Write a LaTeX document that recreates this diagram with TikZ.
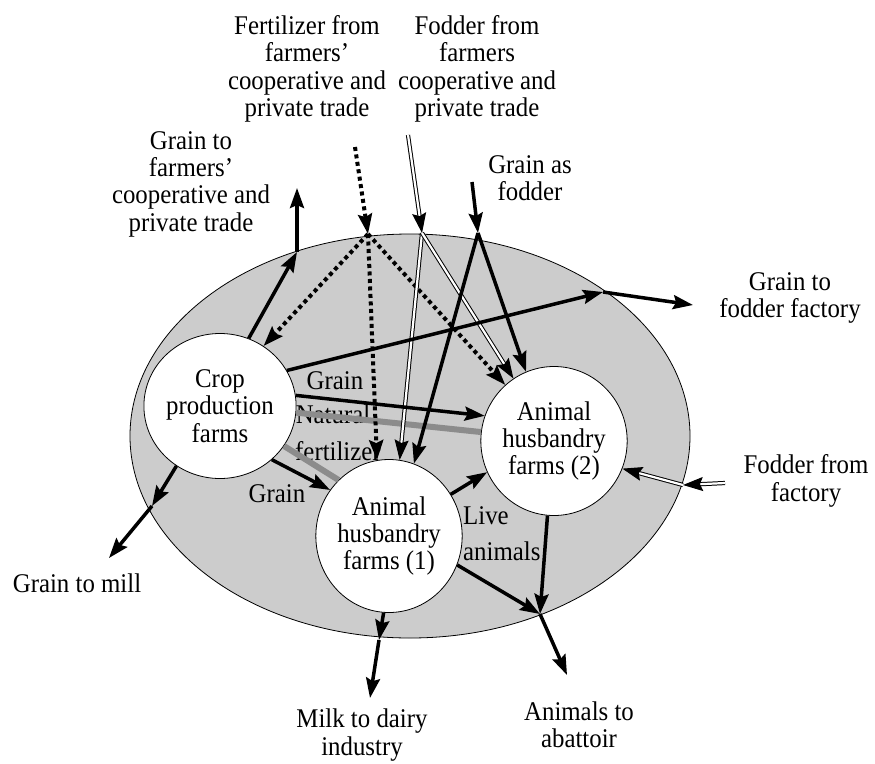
\documentclass[tikz,border=0pt]{standalone}
\usepackage{fontspec}
\setmainfont{Liberation Serif}[FakeStretch=0.92]
\usetikzlibrary{shapes.geometric,arrows.meta}

\begin{document}
\begin{tikzpicture}[x=1pt, y=-1pt, font=\fontsize{27}{27.3}\selectfont]

        % Define custom styles for nodes and flows
        \tikzset{
          farm/.style={ellipse, draw, line width=0.8pt, fill=white, inner sep=0pt, align=center},
          lbl/.style={align=center, inner sep=0pt},
          flow/.style={line width=3.5pt, -{Stealth[length=20pt,width=14pt,inset=3pt]}},
          fert/.style={flow, line width=4pt, dash pattern=on 4pt off 3.5pt},
          fodder/.style={line width=1pt, double, double distance=2.2pt, -{Stealth[length=20pt,width=14pt,inset=3pt]}},
          manure/.style={line width=6pt, draw=black!45}
        }

        \useasboundingbox (0,0) rectangle (875,763);

        % Farm area and farms
        \node[ellipse, draw, line width=0.8pt, fill=black!20, minimum width=560pt, minimum height=404pt] (field) at (410,436) {};
        \node[farm, minimum width=127pt, minimum height=145pt] (crop) at (220,406) {Crop\\production\\farms};
        \node[farm, minimum width=135pt, minimum height=153pt] (an1) at (389,536) {Animal\\husbandry\\farms (1)};
        \node[farm, minimum width=131pt, minimum height=149pt] (an2) at (554,441) {Animal\\husbandry\\farms (2)};

        % Outside labels
        \node[lbl] (fertlbl) at (307,69) {Fertilizer from\\farmers'\\cooperative and\\private trade};
        \node[lbl] (fodlbl) at (477,69) {Fodder from\\farmers\\cooperative and\\private trade};
        \node[lbl] (farmlbl) at (191,184) {Grain to\\farmers'\\cooperative and\\private trade};
        \node[lbl] (grfodlbl) at (530,178) {Grain as\\fodder};
        \node[lbl] (factlbl) at (790,298) {Grain to\\fodder factory};
        \node[lbl] (fodfactlbl) at (806,481) {Fodder from\\factory};
        \node[lbl] (milllbl) at (77,583) {Grain to mill};
        \node[lbl] (milklbl) at (362,735) {Milk to dairy\\industry};
        \node[lbl] (abatlbl) at (579,725) {Animals to\\abattoir};

        % Labels inside the farm area
        \node[lbl] (grain1) at (335,381) {Grain};
        \node[lbl] (natural) at (333,414) {Natural};
        \node[lbl, anchor=west] (fertilizer) at (295,451) {fertilizer};
        \node[lbl] (grain2) at (277,494) {Grain};
        \node[lbl, anchor=west] (live) at (463,516) {Live};
        \node[lbl, anchor=west] (animals) at (463,551) {animals};

        % Points on the border of the farm area and free ends
        \coordinate (bfarm) at (297,252);
        \coordinate (bfert) at (368,234);
        \coordinate (bfod) at (422,233);
        \coordinate (bgrain) at (478,233);
        \coordinate (bfact) at (603,292);
        \coordinate (bfodfact) at (683,485);
        \coordinate (babat) at (540,614);
        \coordinate (bmilk) at (379,640);
        \coordinate (bmill) at (152,506);
        \coordinate (efarm) at (297,188);
        \coordinate (efert) at (355,147);
        \coordinate (efod) at (408,135);
        \coordinate (egrain) at (472,182);
        \coordinate (efact) at (693,305);
        \coordinate (efodfact) at (725,483);
        \coordinate (eabat) at (567,675);
        \coordinate (emilk) at (370,698);
        \coordinate (emill) at (109,558);

        % Natural fertilizer (grey bands)
        \draw[manure] (crop.-5) -- (an2.173);
        \draw[manure] (crop.-32) -- (an1.132);

        % Flows from outside into the farms
        \draw[fert] (efert) -- (bfert);
        \draw[fert] (bfert) -- (crop.54);
        \draw[fert] (bfert) -- (an1.99);
        \draw[fert] (bfert) -- (an2.131);
        \draw[fodder] (efod) -- (bfod);
        \draw[fodder] (bfod) -- (an1.82);
        \draw[fodder] (bfod) -- (an2.123);
        \draw[flow] (egrain) -- (bgrain);
        \draw[flow] (bgrain) -- (an1.71);
        \draw[flow] (bgrain) -- (an2.112);
        \draw[fodder] (efodfact) -- (bfodfact);
        \draw[fodder] (bfodfact) -- (an2.-22);

        % Flows between the farms
        \draw[flow] (crop.8) -- (an2.160);
        \draw[flow] (crop.-46) -- (an1.142);
        \draw[flow] (an1.34) -- (an2.205);

        % Flows out of the farm area
        \draw[flow] (crop.67) -- (bfarm);
        \draw[flow] (bfarm) -- (efarm);
        \draw[flow] (crop.28) -- (bfact);
        \draw[flow] (bfact) -- (efact);
        \draw[flow] (crop.234) -- (bmill);
        \draw[flow] (bmill) -- (emill);
        \draw[flow] (an1.266) -- (bmilk);
        \draw[flow] (bmilk) -- (emilk);
        \draw[flow] (an1.-23) -- (babat);
        \draw[flow] (an2.265) -- (babat);
        \draw[flow] (babat) -- (eabat);

\end{tikzpicture}
\end{document}
